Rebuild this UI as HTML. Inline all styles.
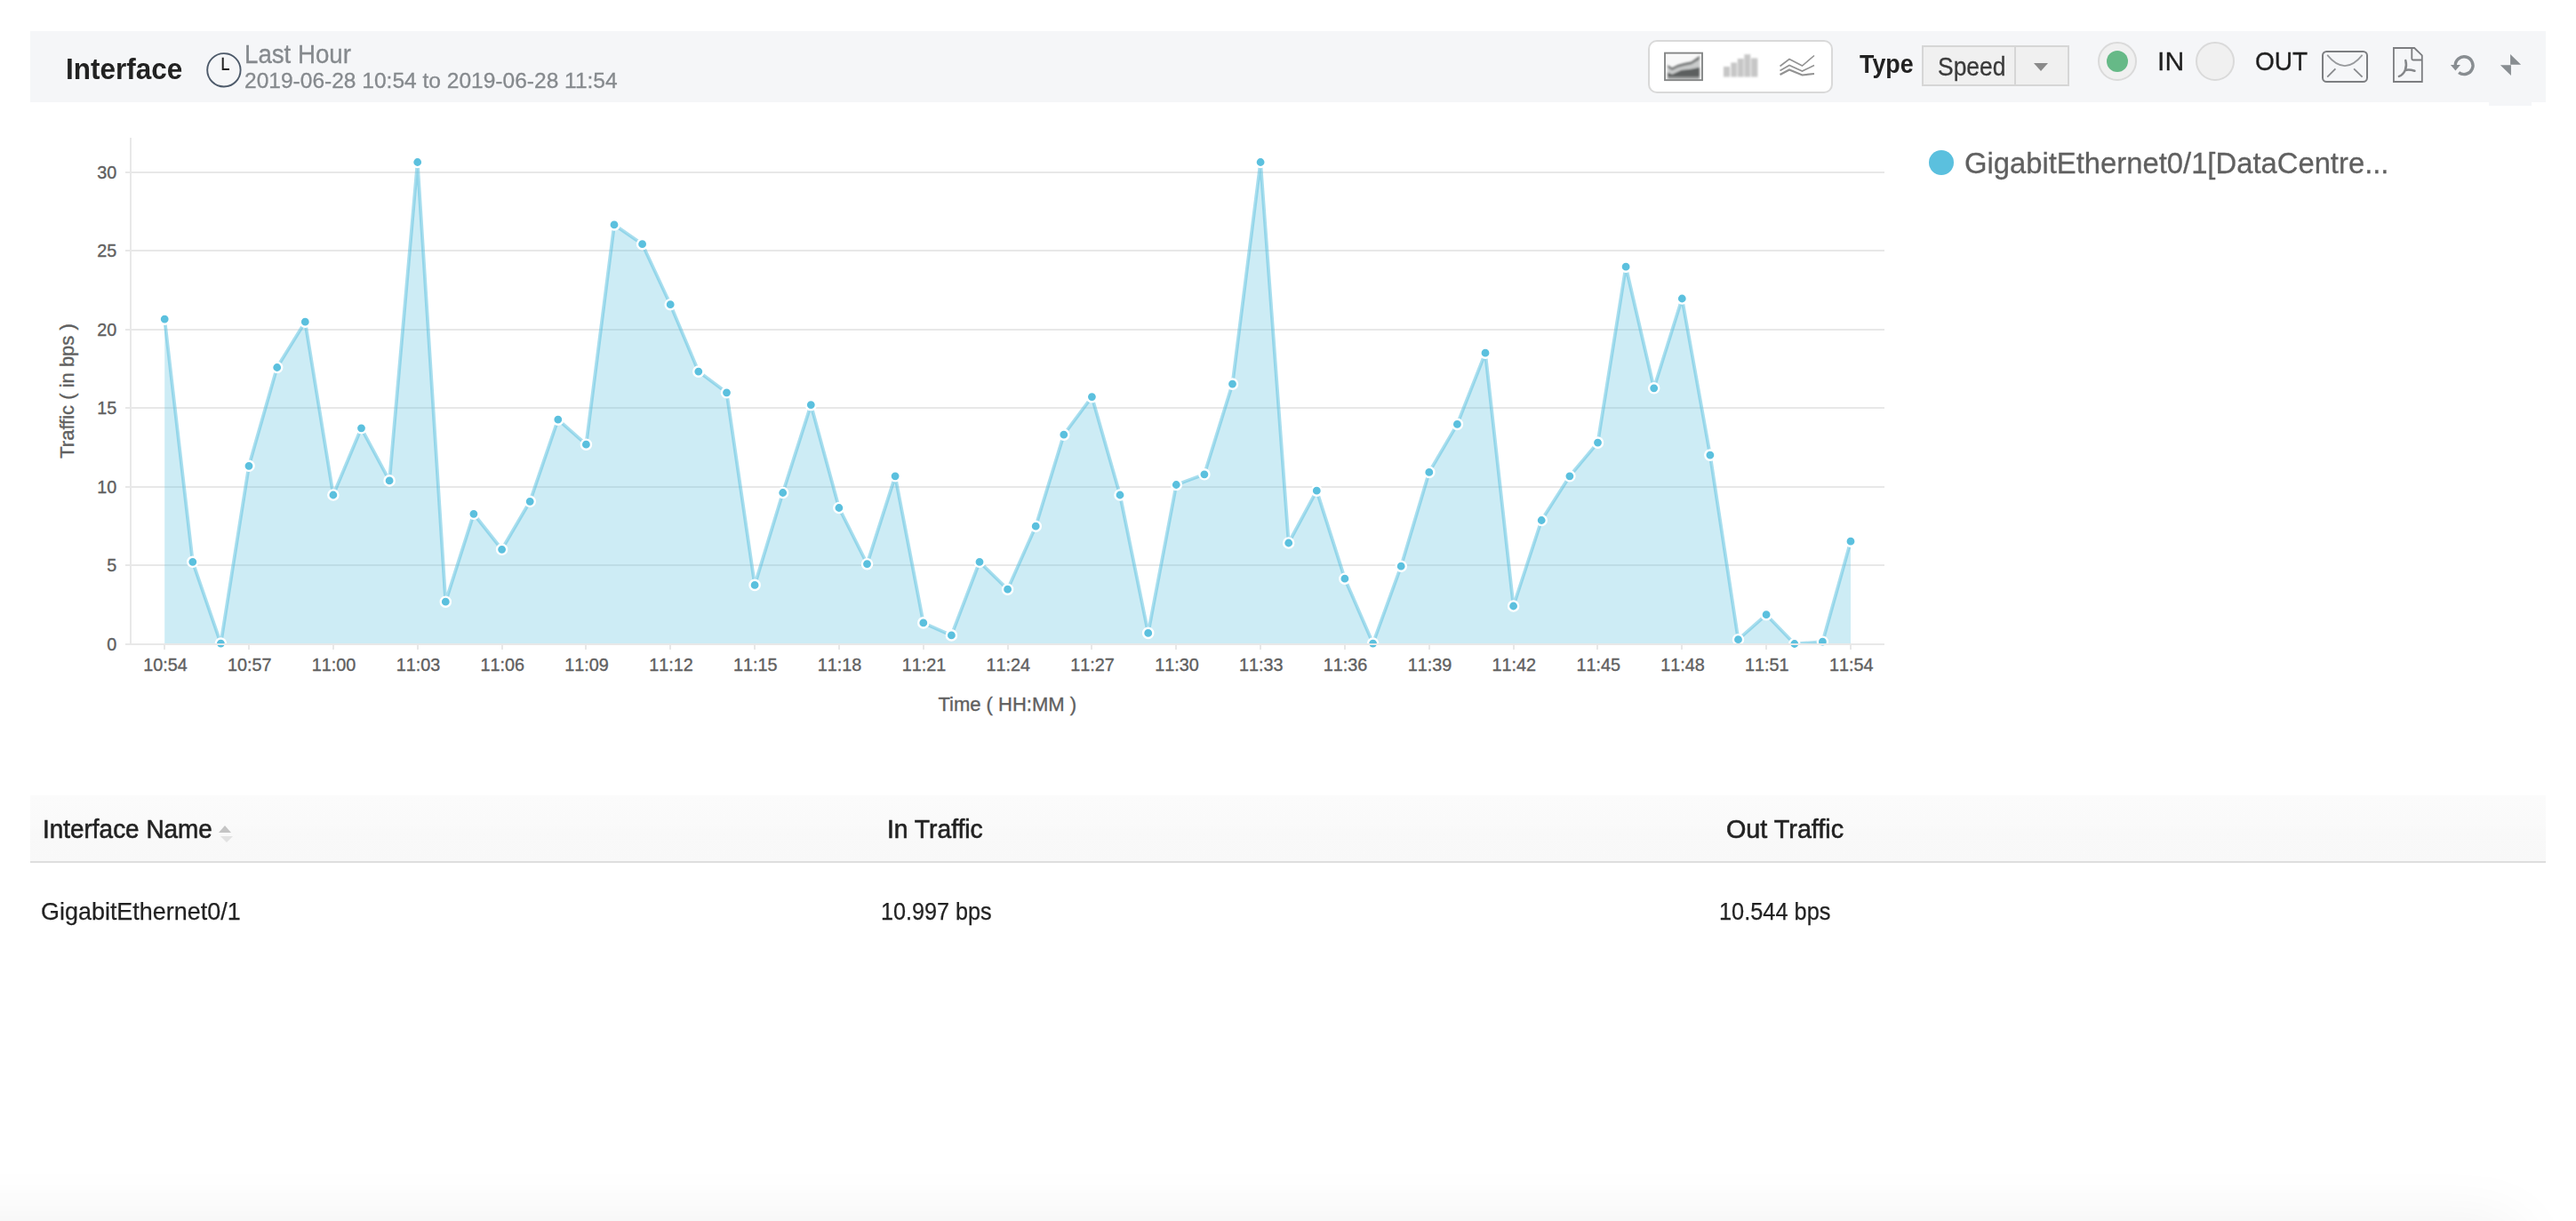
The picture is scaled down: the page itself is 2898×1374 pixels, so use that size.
<!DOCTYPE html>
<html lang="en"><head><meta charset="utf-8"><title>Interface</title>
<style>
html,body{margin:0;padding:0;background:#fff;}
body{width:2898px;height:1374px;position:relative;overflow:hidden;font-family:"Liberation Sans",Arial,sans-serif;}
.abs{position:absolute;box-sizing:border-box;}
.tx{position:absolute;line-height:1;white-space:pre;transform-origin:0 0;}
#hdr{left:34px;top:35px;width:2830px;height:80px;background:#f5f6f8;}
#hdrtab{left:2800px;top:114px;width:48px;height:5px;background:#f5f6f8;}
#iconbox{left:1854px;top:45px;width:208px;height:60px;background:#fff;border:2px solid #d9d9d9;border-radius:10px;}
#select{left:2162px;top:51px;width:166px;height:46px;background:#f0f0f0;border:2px solid #d6d6d6;}
#seldiv{left:2266px;top:52px;width:2px;height:44px;background:#d6d6d6;}
#seltri{left:2288px;top:71.2px;width:0;height:0;border-left:8px solid transparent;border-right:8px solid transparent;border-top:9.6px solid #8a8a8a;}
.radio{width:43.8px;height:43.8px;border-radius:50%;background:#f0f0f0;border:2px solid #dadada;}
#r1{left:2360px;top:47px;}
#r2{left:2470.2px;top:47px;}
#r1dot{left:2369.9px;top:56.8px;width:24.2px;height:24.2px;border-radius:50%;background:#66b987;}
#legdot{left:2170px;top:169px;width:28px;height:28px;border-radius:50%;background:#5bc0de;}
#thead{left:34px;top:895px;width:2830px;height:76px;background:linear-gradient(#fbfbfb 0%,#fafafa 45%,#f9f9f9 55%,#f8f8f8 100%);border-bottom:2px solid #dedede;}
#sortup{left:245.6px;top:928.6px;width:0;height:0;border-left:7.2px solid transparent;border-right:7.2px solid transparent;border-bottom:8.4px solid #c4c4c4;filter:blur(0.4px);}
#sortdn{left:247.8px;top:940.8px;width:0;height:0;border-left:7.2px solid transparent;border-right:7.2px solid transparent;border-top:7.6px solid #e2e2e2;filter:blur(0.4px);}
#botfade{left:-200px;top:1379px;width:3030px;height:120px;background:#eee;box-shadow:0 0 76px rgba(0,0,0,0.07);}
</style></head><body>
<div class="abs" id="hdr"></div><div class="abs" id="hdrtab"></div>
<div class="abs" id="iconbox"></div>
<div class="abs" id="select"></div><div class="abs" id="seldiv"></div><div class="abs" id="seltri"></div>
<div class="abs radio" id="r1"></div><div class="abs" id="r1dot"></div><div class="abs radio" id="r2"></div>
<svg id="chart" width="2898" height="830" viewBox="0 0 2898 830" style="position:absolute;left:0;top:0">
<defs><clipPath id="plot"><rect x="147.0" y="135.0" width="1973.0" height="590.0"/></clipPath></defs>
<g stroke="#e8e8e8" stroke-width="2" fill="none" shape-rendering="crispEdges">
<path d="M141 636H2120"/>
<path d="M141 548H2120"/>
<path d="M141 459H2120"/>
<path d="M141 371H2120"/>
<path d="M141 282H2120"/>
<path d="M141 194H2120"/>
</g>
<polygon clip-path="url(#plot)" fill="#5bc0de" fill-opacity="0.3" points="185.2,725.0 185.2,359.1 216.8,632.3 248.4,724.1 280.0,524.3 311.7,413.5 343.3,362.2 374.9,557.0 406.5,481.8 438.1,540.9 469.7,182.5 501.3,677.2 532.9,578.3 564.6,618.3 596.2,564.3 627.8,472.1 659.4,500.2 691.0,252.9 722.6,274.7 754.2,342.7 785.8,418.1 817.5,441.8 849.1,658.4 880.7,554.5 912.3,455.6 943.9,571.5 975.5,634.7 1007.1,535.8 1038.8,700.9 1070.4,714.9 1102.0,632.3 1133.6,663.2 1165.2,592.2 1196.8,489.1 1228.4,446.6 1260.0,557.0 1291.7,712.4 1323.3,545.5 1354.9,533.8 1386.5,432.1 1418.1,182.5 1449.7,611.0 1481.3,552.2 1512.9,651.2 1544.6,724.1 1576.2,637.2 1607.8,531.4 1639.4,477.4 1671.0,397.2 1702.6,682.0 1734.2,585.5 1765.9,535.8 1797.5,498.1 1829.1,300.2 1860.7,436.8 1892.3,336.0 1923.9,512.1 1955.5,719.7 1987.1,691.7 2018.8,724.5 2050.4,722.2 2082.0,609.2 2082.0,725.0"/>
<polyline clip-path="url(#plot)" fill="none" stroke="#5bc0de" stroke-opacity="0.52" stroke-width="3.8" stroke-linejoin="round" stroke-linecap="round" points="185.2,359.1 216.8,632.3 248.4,724.1 280.0,524.3 311.7,413.5 343.3,362.2 374.9,557.0 406.5,481.8 438.1,540.9 469.7,182.5 501.3,677.2 532.9,578.3 564.6,618.3 596.2,564.3 627.8,472.1 659.4,500.2 691.0,252.9 722.6,274.7 754.2,342.7 785.8,418.1 817.5,441.8 849.1,658.4 880.7,554.5 912.3,455.6 943.9,571.5 975.5,634.7 1007.1,535.8 1038.8,700.9 1070.4,714.9 1102.0,632.3 1133.6,663.2 1165.2,592.2 1196.8,489.1 1228.4,446.6 1260.0,557.0 1291.7,712.4 1323.3,545.5 1354.9,533.8 1386.5,432.1 1418.1,182.5 1449.7,611.0 1481.3,552.2 1512.9,651.2 1544.6,724.1 1576.2,637.2 1607.8,531.4 1639.4,477.4 1671.0,397.2 1702.6,682.0 1734.2,585.5 1765.9,535.8 1797.5,498.1 1829.1,300.2 1860.7,436.8 1892.3,336.0 1923.9,512.1 1955.5,719.7 1987.1,691.7 2018.8,724.5 2050.4,722.2 2082.0,609.2"/>
<g fill="#5bc0de" stroke="#fff" stroke-width="2.4">
<circle cx="185.2" cy="359.1" r="5.6"/>
<circle cx="216.8" cy="632.3" r="5.6"/>
<circle cx="248.4" cy="724.1" r="5.6"/>
<circle cx="280.0" cy="524.3" r="5.6"/>
<circle cx="311.7" cy="413.5" r="5.6"/>
<circle cx="343.3" cy="362.2" r="5.6"/>
<circle cx="374.9" cy="557.0" r="5.6"/>
<circle cx="406.5" cy="481.8" r="5.6"/>
<circle cx="438.1" cy="540.9" r="5.6"/>
<circle cx="469.7" cy="182.5" r="5.6"/>
<circle cx="501.3" cy="677.2" r="5.6"/>
<circle cx="532.9" cy="578.3" r="5.6"/>
<circle cx="564.6" cy="618.3" r="5.6"/>
<circle cx="596.2" cy="564.3" r="5.6"/>
<circle cx="627.8" cy="472.1" r="5.6"/>
<circle cx="659.4" cy="500.2" r="5.6"/>
<circle cx="691.0" cy="252.9" r="5.6"/>
<circle cx="722.6" cy="274.7" r="5.6"/>
<circle cx="754.2" cy="342.7" r="5.6"/>
<circle cx="785.8" cy="418.1" r="5.6"/>
<circle cx="817.5" cy="441.8" r="5.6"/>
<circle cx="849.1" cy="658.4" r="5.6"/>
<circle cx="880.7" cy="554.5" r="5.6"/>
<circle cx="912.3" cy="455.6" r="5.6"/>
<circle cx="943.9" cy="571.5" r="5.6"/>
<circle cx="975.5" cy="634.7" r="5.6"/>
<circle cx="1007.1" cy="535.8" r="5.6"/>
<circle cx="1038.8" cy="700.9" r="5.6"/>
<circle cx="1070.4" cy="714.9" r="5.6"/>
<circle cx="1102.0" cy="632.3" r="5.6"/>
<circle cx="1133.6" cy="663.2" r="5.6"/>
<circle cx="1165.2" cy="592.2" r="5.6"/>
<circle cx="1196.8" cy="489.1" r="5.6"/>
<circle cx="1228.4" cy="446.6" r="5.6"/>
<circle cx="1260.0" cy="557.0" r="5.6"/>
<circle cx="1291.7" cy="712.4" r="5.6"/>
<circle cx="1323.3" cy="545.5" r="5.6"/>
<circle cx="1354.9" cy="533.8" r="5.6"/>
<circle cx="1386.5" cy="432.1" r="5.6"/>
<circle cx="1418.1" cy="182.5" r="5.6"/>
<circle cx="1449.7" cy="611.0" r="5.6"/>
<circle cx="1481.3" cy="552.2" r="5.6"/>
<circle cx="1512.9" cy="651.2" r="5.6"/>
<circle cx="1544.6" cy="724.1" r="5.6"/>
<circle cx="1576.2" cy="637.2" r="5.6"/>
<circle cx="1607.8" cy="531.4" r="5.6"/>
<circle cx="1639.4" cy="477.4" r="5.6"/>
<circle cx="1671.0" cy="397.2" r="5.6"/>
<circle cx="1702.6" cy="682.0" r="5.6"/>
<circle cx="1734.2" cy="585.5" r="5.6"/>
<circle cx="1765.9" cy="535.8" r="5.6"/>
<circle cx="1797.5" cy="498.1" r="5.6"/>
<circle cx="1829.1" cy="300.2" r="5.6"/>
<circle cx="1860.7" cy="436.8" r="5.6"/>
<circle cx="1892.3" cy="336.0" r="5.6"/>
<circle cx="1923.9" cy="512.1" r="5.6"/>
<circle cx="1955.5" cy="719.7" r="5.6"/>
<circle cx="1987.1" cy="691.7" r="5.6"/>
<circle cx="2018.8" cy="724.5" r="5.6"/>
<circle cx="2050.4" cy="722.2" r="5.6"/>
<circle cx="2082.0" cy="609.2" r="5.6"/>
</g>
<g stroke="#e8e8e8" stroke-width="2" fill="none" shape-rendering="crispEdges">
<path d="M147 155V725"/>
<path d="M141 725H2120"/>
<path d="M185 725v6"/>
<path d="M280 725v6"/>
<path d="M375 725v6"/>
<path d="M470 725v6"/>
<path d="M565 725v6"/>
<path d="M659 725v6"/>
<path d="M754 725v6"/>
<path d="M849 725v6"/>
<path d="M944 725v6"/>
<path d="M1039 725v6"/>
<path d="M1134 725v6"/>
<path d="M1228 725v6"/>
<path d="M1323 725v6"/>
<path d="M1418 725v6"/>
<path d="M1513 725v6"/>
<path d="M1608 725v6"/>
<path d="M1703 725v6"/>
<path d="M1797 725v6"/>
<path d="M1892 725v6"/>
<path d="M1987 725v6"/>
<path d="M2082 725v6"/>
</g>
<g font-family="'Liberation Sans', Arial, sans-serif" font-size="19.8" fill="#606060" stroke="#606060" stroke-width="0.35">
<g text-anchor="end">
<text x="131.3" y="732.0">0</text>
<text x="131.3" y="643.0">5</text>
<text x="131.3" y="555.0">10</text>
<text x="131.3" y="466.0">15</text>
<text x="131.3" y="378.0">20</text>
<text x="131.3" y="289.0">25</text>
<text x="131.3" y="201.0">30</text>
</g><g text-anchor="middle" style="font-kerning:none">
<text x="185.9" y="754.9">10:54</text>
<text x="280.7" y="754.9">10:57</text>
<text x="375.6" y="754.9">11:00</text>
<text x="470.4" y="754.9">11:03</text>
<text x="565.3" y="754.9">11:06</text>
<text x="660.1" y="754.9">11:09</text>
<text x="754.9" y="754.9">11:12</text>
<text x="849.8" y="754.9">11:15</text>
<text x="944.6" y="754.9">11:18</text>
<text x="1039.5" y="754.9">11:21</text>
<text x="1134.3" y="754.9">11:24</text>
<text x="1229.1" y="754.9">11:27</text>
<text x="1324.0" y="754.9">11:30</text>
<text x="1418.8" y="754.9">11:33</text>
<text x="1513.6" y="754.9">11:36</text>
<text x="1608.5" y="754.9">11:39</text>
<text x="1703.3" y="754.9">11:42</text>
<text x="1798.2" y="754.9">11:45</text>
<text x="1893.0" y="754.9">11:48</text>
<text x="1987.8" y="754.9">11:51</text>
<text x="2082.7" y="754.9">11:54</text>
</g></g>
<g font-family="'Liberation Sans', Arial, sans-serif" font-size="22" fill="#606060" stroke="#606060" stroke-width="0.35" text-anchor="middle">
<text x="1133.2" y="799.7">Time ( HH:MM )</text>
<text transform="translate(83.4 440) rotate(-90)">Traffic ( in bps )</text>
</g>
</svg>

<svg class="abs" id="icons" width="2898" height="130" viewBox="0 0 2898 130" style="left:0;top:0">
<defs><filter id="b1" x="-10%" y="-10%" width="120%" height="120%"><feGaussianBlur stdDeviation="0.9"/></filter>
<filter id="b2" x="-10%" y="-10%" width="120%" height="120%"><feGaussianBlur stdDeviation="0.6"/></filter>
<filter id="b3" x="-10%" y="-10%" width="120%" height="120%"><feGaussianBlur stdDeviation="0.85"/></filter></defs>
<!-- clock -->
<circle cx="251.9" cy="78.8" r="18.7" fill="none" stroke="#4d5a6a" stroke-width="1.9"/>
<path d="M250.7 64.8V78H258" fill="none" stroke="#222" stroke-width="2"/>
<!-- area icon -->
<rect x="1873.9" y="60.5" width="40.2" height="28.8" fill="#f8f8f8"/>
<g filter="url(#b3)">
<rect x="1875.9" y="86.4" width="36" height="2.9" fill="#9c9e9e"/>
<path d="M1876.1 72.9L1881.2 76.1L1887.6 72.7L1895.1 70.8L1902.7 69.3L1911.9 62.7V86.6H1876.1Z" fill="#7c7e7e"/>
<path d="M1876.1 76.1L1881.2 79.3L1887.6 75.9L1895.1 74L1902.7 72.5L1911.9 66.9V86.6H1876.1Z" fill="#c9cbcb"/>
<path d="M1876.1 81.5L1881.2 83.8L1886.1 81.5L1891.4 78.9L1902.7 77.8L1911.9 75.8V86.6H1876.1Z" fill="#5c5f5f"/>
</g>
<rect x="1873" y="59.65" width="42" height="30.5" fill="none" stroke="#858787" stroke-width="1.9" filter="url(#b2)"/>
<!-- bar icon -->
<g filter="url(#b1)" fill="#c6c6c6">
<rect x="1939" y="75" width="7" height="11.5"/><rect x="1947.3" y="70.5" width="6.6" height="16"/><rect x="1954.8" y="66" width="6.8" height="20.5"/><rect x="1962.4" y="61.2" width="6.8" height="25.3"/><rect x="1970.1" y="65.5" width="7.2" height="21"/>
</g>
<!-- line icon -->
<g filter="url(#b2)" fill="none" stroke="#929292" stroke-width="1.6">
<path d="M2002.5 74.5L2013 66.5L2027.5 74L2041 62.5"/>
<path d="M2002.5 79.5L2013 73.5L2027.5 80L2041 73.5"/>
<path d="M2002.5 84L2013 78.5L2027.5 84.5L2041 83" stroke-width="2.2"/>
</g>
<!-- mail -->
<g filter="url(#b2)" fill="none" stroke="#7d8185" stroke-width="2">
<rect x="2613" y="58" width="50" height="34" rx="4.5" ry="4.5" stroke="#7c7e81"/>
<path d="M2618.2 61.9Q2638 86.3 2657.6 61.9" stroke="#97999c" stroke-width="1.7"/><path d="M2618.2 86.6L2627.4 77.3M2648.1 77.3L2657.6 86.6" stroke="#888a8d" stroke-width="1.8"/>
</g>
<!-- pdf -->
<g filter="url(#b2)" fill="none" stroke="#7d8185" stroke-width="2">
<path d="M2692.9 54H2716.2L2724.8 62.3V92H2692.9Z" stroke="#7b7d80" stroke-width="1.8"/>
<path d="M2713.3 54V66Q2713.3 67.5 2714.8 67.5H2724.8" stroke-width="1.8" stroke="#7b7d80"/>
<path d="M2706.3 68C2707.4 72 2707 76 2705.8 79C2704 83 2701 85.3 2698.9 85.9M2705.8 79C2709 78 2713 78.6 2716.4 79.8" stroke="#85878a" stroke-width="2.5" stroke-linecap="round"/>
</g>
<!-- refresh -->
<path d="M2762.2 73.9A9.9 9.9 0 1 1 2766.1 81.55" fill="none" stroke="#888d91" stroke-width="3.4"/>
<path d="M2756.9 73.1H2768L2762.4 79.4Z" fill="#888d91"/>
<!-- pin -->
<path d="M2824.1 60.9V72.8H2836.1ZM2812.9 73.2H2824.9V84.9Z" fill="#888d91"/>
</svg>

<div class="abs" id="legdot"></div>
<div class="abs" id="thead"></div><div class="abs" id="sortup"></div><div class="abs" id="sortdn"></div>
<div class="abs" id="botfade"></div>
<div class="tx" id="title" style="left:74.18px;top:60.90px;font-size:33.4px;font-weight:700;color:#222;transform:translateY(0px) scaleX(0.9436);">Interface</div>
<div class="tx" id="lasth" style="left:274.50px;top:46.65px;font-size:28.8px;font-weight:400;color:#85898d;transform:translateY(0px) scaleX(0.9610);-webkit-text-stroke:0.3px #85898d;">Last Hour</div>
<div class="tx" id="date" style="left:275.33px;top:78.70px;font-size:24.1px;font-weight:400;color:#85898d;transform:translateY(0px) scaleX(1.0182);-webkit-text-stroke:0.3px #85898d;">2019-06-28 10:54 to 2019-06-28 11:54</div>
<div class="tx" id="type" style="left:2092.47px;top:57.00px;font-size:29.7px;font-weight:700;color:#222;transform:translateY(0px) scaleX(0.9034);">Type</div>
<div class="tx" id="speed" style="left:2179.79px;top:59.80px;font-size:29.7px;font-weight:400;color:#3a3a3a;transform:translateY(0px) scaleX(0.8906);-webkit-text-stroke:0.3px #3a3a3a;">Speed</div>
<div class="tx" id="in" style="left:2427.36px;top:54.00px;font-size:29.7px;font-weight:400;color:#1f1f1f;transform:translateY(0px) scaleX(1.0160);-webkit-text-stroke:0.3px #1f1f1f;">IN</div>
<div class="tx" id="out" style="left:2537.42px;top:54.00px;font-size:29.7px;font-weight:400;color:#1f1f1f;transform:translateY(0px) scaleX(0.9443);-webkit-text-stroke:0.3px #1f1f1f;">OUT</div>
<div class="tx" id="legend" style="left:2210.43px;top:166.50px;font-size:33.4px;font-weight:400;color:#606060;transform:translateY(0px) scaleX(0.9818);-webkit-text-stroke:0.3px #606060;">GigabitEthernet0/1[DataCentre...</div>
<div class="tx" id="th1" style="left:47.65px;top:918.10px;font-size:29.7px;font-weight:400;color:#222;transform:translateY(0px) scaleX(0.9404);-webkit-text-stroke:0.6px #222;">Interface Name</div>
<div class="tx" id="th2" style="left:997.92px;top:918.10px;font-size:29.7px;font-weight:400;color:#222;transform:translateY(0px) scaleX(0.9506);-webkit-text-stroke:0.6px #222;">In Traffic</div>
<div class="tx" id="th3" style="left:1941.69px;top:918.10px;font-size:29.7px;font-weight:400;color:#222;transform:translateY(0px) scaleX(0.9685);-webkit-text-stroke:0.6px #222;">Out Traffic</div>
<div class="tx" id="td1" style="left:45.89px;top:1011.80px;font-size:27.8px;font-weight:400;color:#222;transform:translateY(0px) scaleX(0.9692);-webkit-text-stroke:0.25px #222;">GigabitEthernet0/1</div>
<div class="tx" id="td2" style="left:990.89px;top:1011.80px;font-size:27.8px;font-weight:400;color:#222;transform:translateY(0px) scaleX(0.9061);-webkit-text-stroke:0.25px #222;">10.997 bps</div>
<div class="tx" id="td3" style="left:1934.38px;top:1011.80px;font-size:27.8px;font-weight:400;color:#222;transform:translateY(0px) scaleX(0.9121);-webkit-text-stroke:0.25px #222;">10.544 bps</div>
</body></html>
